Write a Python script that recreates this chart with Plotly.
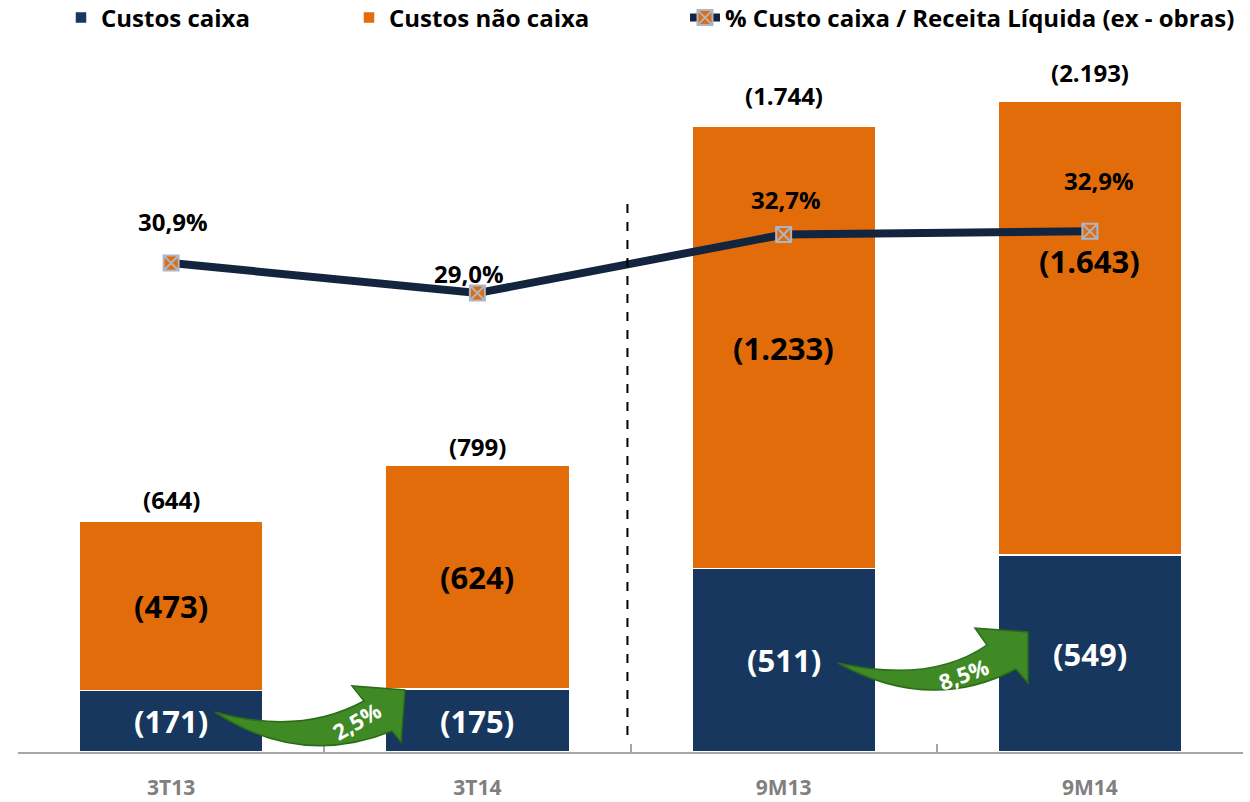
import plotly.graph_objects as go

# ---------------- data ----------------
categorias = ["3T13", "3T14", "9M13", "9M14"]
custos_caixa = [171, 175, 511, 549]
custos_nao_caixa = [473, 624, 1233, 1643]          # reported values (labels)
custos_nao_caixa_desenho = [473, 624, 1233, 1266]  # heights as drawn in the picture
custos_totais = [644, 799, 1744, 2193]
pct_custo_caixa = [30.9, 29.0, 32.7, 32.9]
crescimento = ["2,5%", "8,5%"]

# ---------------- style ----------------
NAVY = "#17375E"
ORANGE = "#E36C0A"
LINE = "#13243E"
GREEN = "#3F8A24"
GREEN_EDGE = "#2C6B18"
FONT = "Open Sans"

OFF = 0                       # page body margin removed via post_script
W, H = 1250, 802
ML, MR, MT, MB = 18, 7, 50, 50
PW, PH = W - ML - MR, H - MT - MB
PLOT_L = OFF + ML             # page px
PLOT_B = OFF + H - MB         # page px


def pxx(x):
    return (x - PLOT_L) / PW


def pyy(y):
    return (PLOT_B - y) / PH


def fmt(v):
    return "(" + f"{v:,}".replace(",", ".") + ")"


def fmt_pct(v):
    return f"{v:.1f}%".replace(".", ",")


fig = go.Figure()
fig.add_bar(x=categorias, y=custos_caixa, name="Custos caixa", legend="legend",
            marker=dict(color=NAVY, line=dict(color="white", width=1.5)),
            width=0.6, hoverinfo="skip")
fig.add_bar(x=categorias, y=custos_nao_caixa_desenho, name="Custos não caixa",
            legend="legend2",
            marker=dict(color=ORANGE, line=dict(color="white", width=1.5)),
            width=0.6, hoverinfo="skip")
fig.add_scatter(x=categorias, y=pct_custo_caixa, yaxis="y2", legend="legend3",
                name="% Custo caixa / Receita Líquida (ex - obras)",
                mode="lines+markers",
                line=dict(color=LINE, width=8),
                marker=dict(symbol="square-x", size=15, color=ORANGE,
                            line=dict(color="#A9B7C9", width=2)),
                hoverinfo="skip")

ann = []
nc_shift = [0, 0, 0, 67]
tot_shift = [3, 0, 12, 10]
pct_yshift = [42, 20, 35, 51]
pct_xshift = [2, -8, 2, 9]
for i, c in enumerate(categorias):
    ann.append(dict(x=c, y=custos_caixa[i] / 2, text=fmt(custos_caixa[i]),
                    showarrow=False, font=dict(family=FONT, size=31, color="white", weight="bold")))
    ann.append(dict(x=c, y=custos_caixa[i] + custos_nao_caixa_desenho[i] / 2,
                    yshift=nc_shift[i], text=fmt(custos_nao_caixa[i]),
                    showarrow=False, font=dict(family=FONT, size=31, color="black", weight="bold")))
    ann.append(dict(x=c, y=custos_caixa[i] + custos_nao_caixa_desenho[i],
                    yanchor="bottom", yshift=tot_shift[i], text=fmt(custos_totais[i]),
                    showarrow=False, font=dict(family=FONT, size=24, color="black", weight="bold")))
    ann.append(dict(x=c, y=pct_custo_caixa[i], yref="y2", yshift=pct_yshift[i],
                    xshift=pct_xshift[i], text=fmt_pct(pct_custo_caixa[i]),
                    showarrow=False, font=dict(family=FONT, size=24, color="black", weight="bold")))

# growth arrows (decorations) in page pixel coords -> paper
arrows = [
    [("M", 215, 712), ("Q", 300, 736, 364, 701), ("L", 352, 686), ("L", 405, 690),
     ("L", 401, 742), ("L", 392, 731), ("Q", 300, 768, 215, 712)],
    [("M", 838, 663), ("Q", 930, 684, 987, 645), ("L", 975, 628), ("L", 1028, 632),
     ("L", 1028, 683), ("L", 1016, 669), ("Q", 930, 714, 838, 663)],
]
shapes = []
for a in arrows:
    parts = []
    for seg in a:
        cmd = seg[0]
        pts = seg[1:]
        coords = []
        for k in range(0, len(pts), 2):
            coords.append(f"{pxx(pts[k]):.5f},{pyy(pts[k + 1]):.5f}")
        parts.append(cmd + " " + " ".join(coords))
    path = " ".join(parts) + " Z"
    shapes.append(dict(type="path", path=path, xref="paper", yref="paper",
                       fillcolor=GREEN, line=dict(color=GREEN_EDGE, width=1.5), layer="above"))

arrow_text_pos = [(356, 721, -30), (963, 674, -20)]
for (x, y, ang), t in zip(arrow_text_pos, crescimento):
    ann.append(dict(x=pxx(x), y=pyy(y), xref="paper", yref="paper", text=t,
                    xanchor="center", yanchor="middle",
                    textangle=ang, showarrow=False,
                    font=dict(family=FONT, size=22, color="white", weight="bold")))

# dashed separator
shapes.append(dict(type="line", xref="x", yref="paper", x0=1.49, x1=1.49,
                   y0=pyy(735), y1=pyy(195), line=dict(color="black", width=2, dash="dash")))


def legend_at(text_left_px):
    return dict(orientation="h", xref="container", yref="container",
                x=(text_left_px - 40 - OFF) / W, y=1 - (18 - OFF) / H,
                xanchor="left", yanchor="middle", bgcolor="rgba(0,0,0,0)",
                font=dict(family=FONT, size=24, color="black", weight="bold"),
                itemwidth=30)


fig.update_layout(
    width=W, height=H,
    margin=dict(l=ML, r=MR, t=MT, b=MB, autoexpand=False),
    paper_bgcolor="white", plot_bgcolor="white",
    barmode="stack", bargap=0.4,
    font=dict(family=FONT),
    showlegend=True,
    legend=legend_at(101),
    legend2=legend_at(389),
    legend3=legend_at(725),
    xaxis=dict(type="category", range=[-0.5, 3.5], showline=True, linecolor="#A6A6A6",
               linewidth=2, ticks="inside", tickson="boundaries", ticklen=8,
               tickcolor="#A6A6A6", tickwidth=1.5, ticklabelstandoff=16,
               automargin=False,
               tickfont=dict(family=FONT, size=21, color="#808080", weight="bold"),
               showgrid=False, zeroline=False),
    yaxis=dict(range=[0, PH / 0.3587], visible=False, showgrid=False, zeroline=False),
    yaxis2=dict(range=[0, PH / 15.825], overlaying="y", visible=False,
                showgrid=False, zeroline=False),
    annotations=ann,
    shapes=shapes,
)

fig.write_html("out.html",
               config={"displayModeBar": False},
               post_script="document.body.style.margin='0px';")
